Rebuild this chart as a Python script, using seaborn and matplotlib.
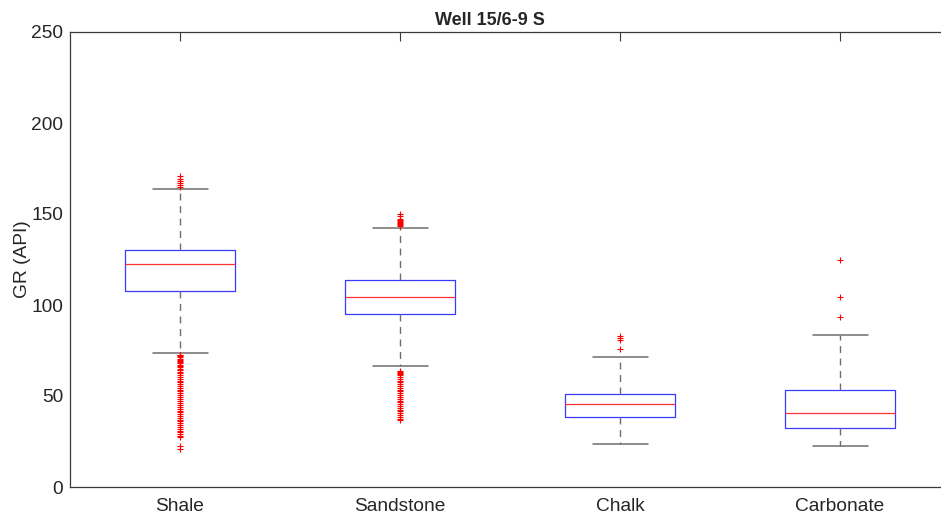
import matplotlib
matplotlib.use("Agg")
import matplotlib.pyplot as plt
import seaborn as sns

# box statistics (GR in API units)
lithology = ["Shale", "Sandstone", "Chalk", "Carbonate"]
q1 = [107.7, 95.1, 38.5, 32.4]
median = [122.5, 104.4, 45.6, 40.7]
q3 = [130.2, 113.7, 51.1, 53.3]
whisker_lo = [73.6, 66.5, 23.6, 22.5]
whisker_hi = [163.7, 142.3, 71.4, 83.5]

fliers_shale = [165, 166, 167, 168, 169.5, 171,
                72.8, 72.3, 71.8, 71.2, 70.6, 70, 69.3, 68.6, 68, 67.2, 66.5, 65.8,
                65, 64.2, 63.4, 62.5, 61.5, 60.5, 59.5, 58.5, 57.5, 56.5, 55.5, 54.5,
                53.5, 52.5, 51.5, 50.5, 49.5, 48.5, 47, 46, 45, 44, 43, 42, 41, 40,
                39, 38, 37, 36, 35, 34, 33, 32, 31, 30, 29, 28, 27.5, 22.5, 21]
fliers_sand = [143.5, 144, 144.5, 145, 145.5, 146, 146.5, 147.5, 149, 150,
               64, 63.3, 62.6, 62, 61.3, 60.5, 59.5, 58.5, 57.5, 56.5, 55.5, 54.5,
               53.5, 52.5, 51.5, 50.5, 49.5, 48.5, 47.5, 46.5, 45.5, 44.5, 43.5,
               42.5, 41.5, 40.5, 39.5, 38.5, 37.5, 36.8]
fliers_chalk = [76, 81, 82, 83]
fliers_carb = [93.5, 104.5, 125]
fliers = [fliers_shale, fliers_sand, fliers_chalk, fliers_carb]

sns.set_style("white")
plt.rcParams["font.family"] = ["Liberation Sans", "DejaVu Sans"]

stats = []
for i, name in enumerate(lithology):
    stats.append({
        "label": name, "q1": q1[i], "med": median[i], "q3": q3[i],
        "whislo": whisker_lo[i], "whishi": whisker_hi[i], "fliers": fliers[i],
    })

fig = plt.figure(figsize=(9.41, 5.19), dpi=100)
# the axes run past the right edge of the figure, as in the reference crop
ax = fig.add_axes([70 / 941, 32 / 519, 880 / 941, 455 / 519])

ax.bxp(stats, positions=range(1, 5), widths=0.5, capwidths=0.25,
       boxprops=dict(color="#3a3aff", linewidth=0.9),
       medianprops=dict(color="#ff3030", linewidth=0.9),
       whiskerprops=dict(color="#6e6e6e", linewidth=1.0, linestyle=(0, (5, 4))),
       capprops=dict(color="#6e6e6e", linewidth=1.1),
       flierprops=dict(marker="+", markeredgecolor="red", markersize=5,
                       markeredgewidth=0.8, linestyle="none"))

ax.set_xlim(0.5, 4.5)
ax.set_ylim(0, 250)
ax.set_yticks([0, 50, 100, 150, 200, 250])
ax.set_xticks(range(1, 5))
ax.set_xticklabels(lithology)
ax.set_ylabel("GR (API)", fontsize=13.8, color="#262626", labelpad=0)
ax.set_title("Well 15/6-9 S", fontsize=13, fontweight="bold", pad=5, x=0.477)

for s in ax.spines.values():
    s.set_color("#3a3a3a")
    s.set_linewidth(0.9)
ax.spines["right"].set_visible(False)
ax.tick_params(axis="both", direction="in", length=6.5, width=0.8, color="#3a3a3a",
               labelsize=13.8, labelcolor="#262626", top=True, right=False)
ax.tick_params(axis="x", pad=8)
ax.tick_params(axis="y", pad=5)

fig.savefig("out.png", dpi=100)
